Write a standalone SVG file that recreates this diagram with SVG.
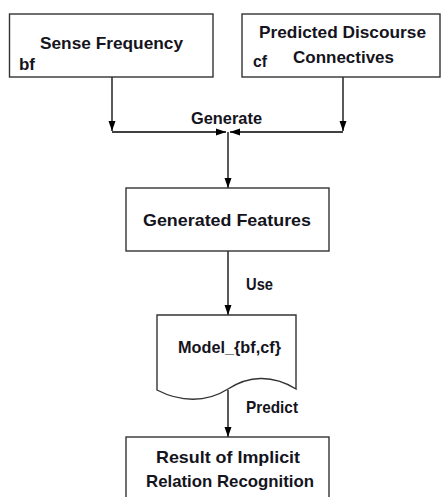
<svg xmlns="http://www.w3.org/2000/svg" width="441" height="497" viewBox="0 0 441 497">
<defs>
<marker id="ah" markerUnits="userSpaceOnUse" markerWidth="10" markerHeight="8" refX="10" refY="4" orient="auto">
<path d="M0,0.5 L10,4 L0,7.5 z" fill="#000"/>
</marker>
<style>
.box{fill:#fff;stroke:#333;stroke-width:1.4}
.ln{fill:none;stroke:#000;stroke-width:1.3}
text{font-family:"Liberation Sans",Arial,sans-serif;font-weight:bold;font-size:17px;fill:#141420}
</style>
</defs>
<rect width="441" height="497" fill="#fff"/>
<g id="connectors">
<path class="ln" d="M112,77 V131" marker-end="url(#ah)"/>
<path class="ln" d="M343,77 V131" marker-end="url(#ah)"/>
<path class="ln" d="M112,132 H226" marker-end="url(#ah)"/>
<path class="ln" d="M343,132 H230" marker-end="url(#ah)"/>
<path class="ln" d="M228,132 V188" marker-end="url(#ah)"/>
<path class="ln" d="M228,251 V315" marker-end="url(#ah)"/>
<path class="ln" d="M228,390 V437" marker-end="url(#ah)"/>
<text x="191" y="124" textLength="71" lengthAdjust="spacingAndGlyphs">Generate</text>
<text x="246" y="290" textLength="27" lengthAdjust="spacingAndGlyphs">Use</text>
<text x="246" y="413" textLength="52" lengthAdjust="spacingAndGlyphs">Predict</text>
</g>
<g id="sense">
<rect class="box" x="9.5" y="14" width="203.5" height="63"/>
<text x="40" y="49" textLength="143" lengthAdjust="spacingAndGlyphs">Sense Frequency</text>
<text x="19" y="70" textLength="16" lengthAdjust="spacingAndGlyphs">bf</text>
</g>
<g id="predicted">
<rect class="box" x="242" y="14" width="198" height="63"/>
<text x="259" y="38" textLength="167" lengthAdjust="spacingAndGlyphs">Predicted Discourse</text>
<text x="293" y="63" textLength="101" lengthAdjust="spacingAndGlyphs">Connectives</text>
<text x="253" y="67" textLength="14" lengthAdjust="spacingAndGlyphs">cf</text>
</g>
<g id="features">
<rect class="box" x="126" y="188" width="203" height="63"/>
<text x="143" y="226" textLength="168" lengthAdjust="spacingAndGlyphs">Generated Features</text>
</g>
<g id="model">
<path class="box" d="M157,315 H296 V389 C272,374 248,376 228,389 C206,403 180,402 157,390 Z"/>
<text x="178" y="353" textLength="103" lengthAdjust="spacingAndGlyphs">Model_{bf,cf}</text>
</g>
<g id="result">
<rect class="box" x="126" y="437" width="203" height="70"/>
<text x="156" y="463" textLength="144" lengthAdjust="spacingAndGlyphs">Result of Implicit</text>
<text x="146" y="487" textLength="168" lengthAdjust="spacingAndGlyphs">Relation Recognition</text>
</g>
</svg>
